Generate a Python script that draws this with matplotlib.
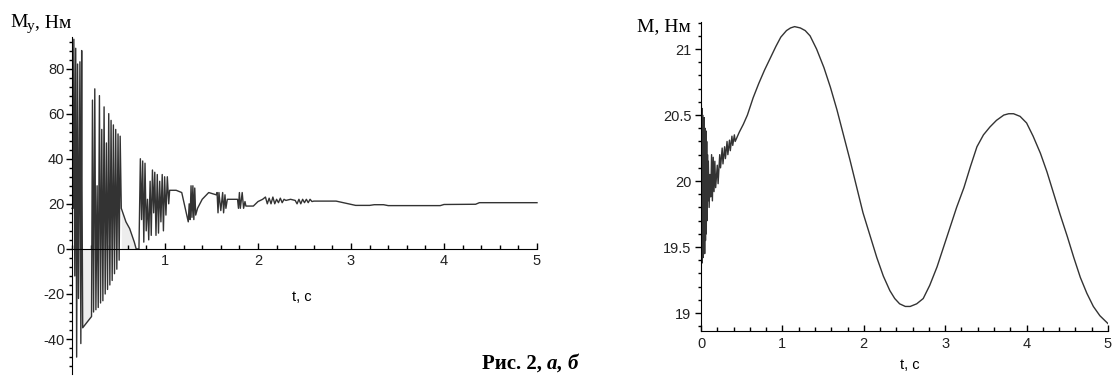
import numpy as np
import matplotlib
matplotlib.use("Agg")
import matplotlib.pyplot as plt
from matplotlib.ticker import MultipleLocator, FixedLocator

# left plot: My(t)
left_curve = [
    (0.0, 18), (0.012, 18), (0.02, 93), (0.03, -12), (0.04, 89), (0.05, -48),
    (0.06, 82), (0.07, -22), (0.085, 83), (0.095, -42), (0.104, 88), (0.108, 26),
    (0.115, -35), (0.21, -30),
    (0.22, 66), (0.232, -28), (0.245, 71), (0.257, -27), (0.27, 28), (0.282, -26),
    (0.295, 68), (0.307, -24), (0.32, 53), (0.332, -23), (0.345, 63), (0.357, -20),
    (0.37, 47), (0.382, -18), (0.395, 60), (0.407, -16), (0.42, 57), (0.432, -14),
    (0.445, 55), (0.457, -11), (0.47, 53), (0.482, -9), (0.495, 51), (0.507, -5),
    (0.518, 50), (0.53, 18), (0.58, 12), (0.62, 9), (0.67, 3), (0.69, 0), (0.72, 0),
    (0.735, 40), (0.748, 13), (0.76, 39), (0.772, 3), (0.785, 38), (0.798, 8),
    (0.812, 22), (0.825, 4), (0.84, 30), (0.852, 6), (0.865, 35), (0.878, 16),
    (0.89, 34), (0.903, 6), (0.917, 33), (0.93, 7), (0.943, 30), (0.956, 12),
    (0.97, 33), (0.983, 8), (0.996, 32), (1.01, 15), (1.025, 32), (1.04, 20),
    (1.05, 26),
    (1.12, 26), (1.18, 25), (1.25, 12), (1.26, 20), (1.27, 13), (1.28, 28),
    (1.29, 14), (1.3, 28), (1.31, 13), (1.32, 27), (1.33, 15), (1.35, 18),
    (1.4, 22), (1.47, 25), (1.55, 24), (1.56, 25), (1.57, 16), (1.58, 25),
    (1.6, 17), (1.62, 25), (1.63, 16), (1.645, 24), (1.655, 18), (1.67, 22),
    (1.78, 22), (1.79, 18), (1.8, 25), (1.81, 18), (1.83, 25), (1.845, 18),
    (1.86, 21), (1.87, 19), (1.95, 19), (2.0, 21), (2.05, 22), (2.08, 23),
    (2.1, 20), (2.12, 22.5), (2.14, 20), (2.16, 23), (2.18, 20), (2.2, 22),
    (2.22, 20.5), (2.24, 22.5), (2.26, 20.5), (2.28, 22), (2.3, 21.5), (2.35, 22),
    (2.4, 21.5), (2.42, 20), (2.44, 22), (2.46, 20), (2.48, 22), (2.5, 20.5),
    (2.52, 22), (2.54, 20.5), (2.56, 22), (2.58, 21), (2.6, 21.2), (2.84, 21.2),
    (2.95, 20.2), (3.05, 19.3), (3.2, 19.3), (3.25, 19.6), (3.35, 19.6),
    (3.4, 19.2), (3.96, 19.2), (4.0, 19.7), (4.34, 19.8), (4.38, 20.5), (5.0, 20.5),
]

# right plot: M(t)
right_curve = [
    (0.0, 20.0), (0.004, 20.58), (0.008, 19.45), (0.012, 20.55), (0.016, 19.38),
    (0.02, 20.5), (0.025, 19.42), (0.03, 20.45), (0.035, 19.5), (0.04, 20.48),
    (0.045, 19.45), (0.05, 20.4), (0.055, 19.55), (0.06, 20.38), (0.065, 19.6),
    (0.07, 20.3), (0.075, 19.7), (0.08, 20.2), (0.085, 19.85), (0.09, 20.15),
    (0.1, 19.8), (0.11, 20.05), (0.12, 19.88), (0.13, 20.2), (0.14, 19.85),
    (0.15, 20.18), (0.16, 19.92), (0.17, 20.15), (0.18, 19.95), (0.2, 20.12),
    (0.21, 19.98), (0.23, 20.2), (0.24, 20.1), (0.26, 20.25), (0.27, 20.13),
    (0.29, 20.26), (0.3, 20.17), (0.32, 20.3), (0.33, 20.2), (0.35, 20.31),
    (0.36, 20.23), (0.38, 20.34), (0.39, 20.27), (0.41, 20.35), (0.42, 20.3),
    (0.47, 20.37), (0.52, 20.43), (0.57, 20.5), (0.64, 20.63), (0.71, 20.74),
    (0.78, 20.84), (0.85, 20.93), (0.92, 21.02), (0.98, 21.09), (1.05, 21.14),
    (1.1, 21.16), (1.15, 21.17), (1.22, 21.16), (1.28, 21.14), (1.34, 21.1),
    (1.42, 21.0), (1.51, 20.86), (1.59, 20.71), (1.67, 20.54), (1.75, 20.35),
    (1.83, 20.16), (1.91, 19.96), (1.99, 19.76), (2.08, 19.58), (2.16, 19.42),
    (2.24, 19.28), (2.32, 19.17), (2.38, 19.11), (2.44, 19.07), (2.51, 19.05),
    (2.57, 19.05), (2.65, 19.07), (2.73, 19.11), (2.81, 19.21), (2.9, 19.35),
    (2.98, 19.5), (3.06, 19.65), (3.14, 19.8), (3.23, 19.95), (3.31, 20.11),
    (3.39, 20.26), (3.47, 20.35), (3.55, 20.41), (3.63, 20.46), (3.72, 20.5),
    (3.78, 20.51), (3.84, 20.51), (3.92, 20.49), (4.0, 20.44), (4.08, 20.34),
    (4.17, 20.21), (4.25, 20.07), (4.33, 19.91), (4.41, 19.75), (4.5, 19.58),
    (4.58, 19.42), (4.66, 19.27), (4.74, 19.15), (4.82, 19.05), (4.9, 18.98),
    (5.0, 18.92),
]

left_yticks = [-40, -20, 0, 20, 40, 60, 80]
left_xticks = [1, 2, 3, 4, 5]
right_yticks = [19, 19.5, 20, 20.5, 21]
right_xticks = [0, 1, 2, 3, 4, 5]

lt, lm = np.array(left_curve).T
rt, rm = np.array(right_curve).T

W, H = 1112, 376
fig = plt.figure(figsize=(W / 100, H / 100), dpi=100)
tick_family = "Liberation Sans"
tick_size = 10.5
serif = "Liberation Serif"
line_col = "#333333"


def px_axes(x0, x1, ytop, ybot):
    return fig.add_axes([x0 / W, (H - ybot) / H, (x1 - x0) / W, (ybot - ytop) / H])


def style_axes(ax):
    ax.spines["top"].set_visible(False)
    ax.spines["right"].set_visible(False)
    ax.tick_params(axis="x", which="major", direction="in", length=4, width=1, pad=4)
    ax.tick_params(axis="x", which="minor", direction="in", length=3, width=1)
    ax.tick_params(axis="y", which="major", direction="out", length=4, width=1, pad=1.5)
    ax.tick_params(axis="y", which="minor", direction="out", length=2.5, width=1)
    for lab in ax.get_xticklabels() + ax.get_yticklabels():
        lab.set_fontfamily(tick_family)
        lab.set_fontsize(tick_size)
        lab.set_color("#222222")


# ---- left
ax1 = px_axes(72, 537, 37, 374)
ax1.set_xlim(0, 5)
ax1.set_ylim(-55.5, 94)
ax1.spines["bottom"].set_position(("data", 0))
ax1.spines["left"].set_position(("data", 0))
ax1.xaxis.set_major_locator(FixedLocator(left_xticks))
ax1.xaxis.set_minor_locator(MultipleLocator(0.2))
ax1.yaxis.set_major_locator(FixedLocator(left_yticks))
ax1.yaxis.set_minor_locator(MultipleLocator(4))
ax1.set_xticklabels([str(v) for v in left_xticks])
ax1.set_yticklabels([str(v) for v in left_yticks])

m1 = (lt >= 0.05) & (lt <= 0.21)
ax1.fill_between(lt[m1], np.minimum(lm[m1], 0), 0, color="#ededed", lw=0)
m2 = (lt >= 0.53) & (lt <= 0.72)
ax1.fill_between(lt[m2], lm[m2], 0, color="#ededed", lw=0)
ax1.plot(lt, lm, color=line_col, lw=1.0, clip_on=False)
style_axes(ax1)

fig.text(10 / W, 1 - 27 / H, "M", fontfamily=serif, fontsize=14, va="baseline")
fig.text(27 / W, 1 - 30 / H, "у", fontfamily=serif, fontsize=11, va="baseline")
fig.text(35 / W, 1 - 27 / H, ", Нм", fontfamily=serif, fontsize=14, va="baseline")
fig.text(302 / W, 1 - 297 / H, "t, c", fontfamily=tick_family,
         fontsize=tick_size, ha="center", va="center")

# ---- right
ax2 = px_axes(701, 1108, 22, 331)
ax2.set_xlim(0, 5)
ax2.set_ylim(18.864, 21.205)
ax2.xaxis.set_major_locator(FixedLocator(right_xticks))
ax2.xaxis.set_minor_locator(MultipleLocator(0.2))
ax2.yaxis.set_major_locator(FixedLocator(right_yticks))
ax2.yaxis.set_minor_locator(MultipleLocator(0.1))
ax2.set_xticklabels([str(v) for v in right_xticks])
ax2.set_yticklabels(["19", "19.5", "20", "20.5", "21"])
ax2.plot(rt, rm, color=line_col, lw=1.0)
style_axes(ax2)
ax2.tick_params(axis="y", which="major", pad=3)

fig.text(691 / W, 1 - 31 / H, "M, Нм", fontfamily=serif, fontsize=14,
         ha="right", va="baseline")
fig.text(910 / W, 1 - 365 / H, "t, c", fontfamily=tick_family,
         fontsize=tick_size, ha="center", va="center")

# caption at the bottom
cap = fig.text(482 / W, 7 / H, "Рис. 2, ", fontfamily=serif, fontsize=15,
               fontweight="bold", va="baseline")
fig.canvas.draw()
bb = cap.get_window_extent()
fig.text(bb.x1 / W, 7 / H, "а, б", fontfamily=serif, fontsize=15,
         fontweight="bold", fontstyle="italic", va="baseline")

fig.savefig("out.png", dpi=100)
